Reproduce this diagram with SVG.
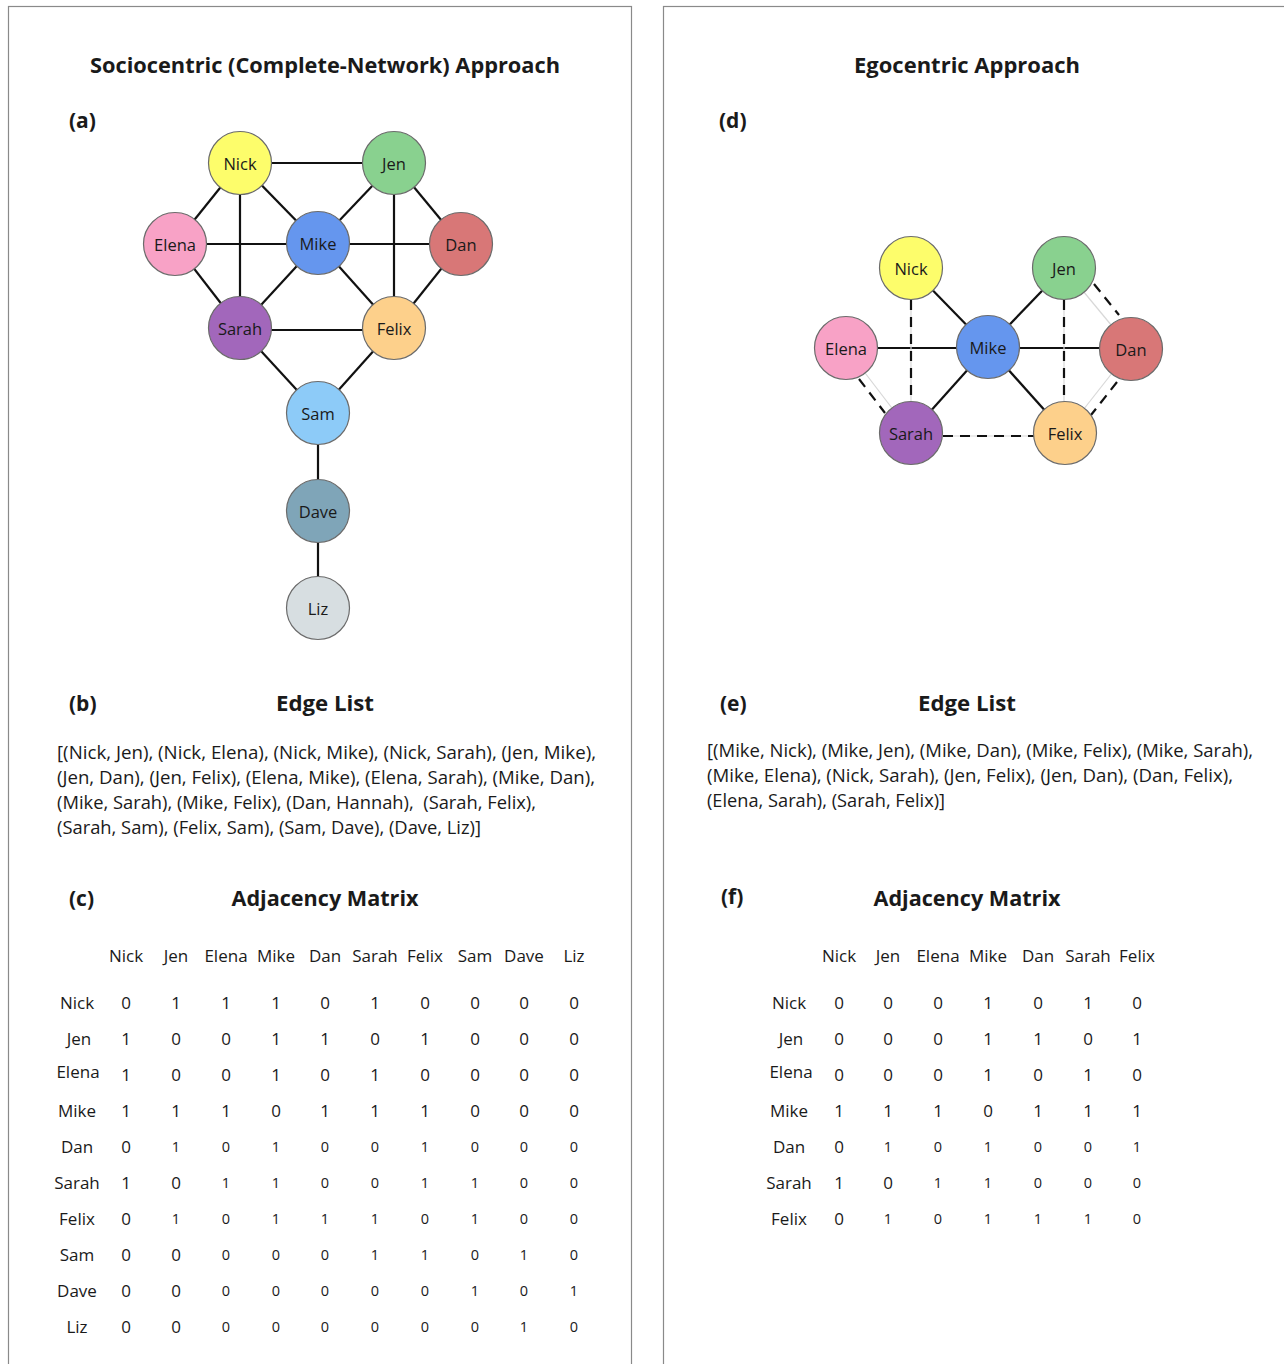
<svg xmlns="http://www.w3.org/2000/svg" width="1284" height="1364" viewBox="0 0 1284 1364">
<style>
  text { font-family: "Open Sans", "Liberation Sans", sans-serif; fill: #1a1a1a; }
  .panel { fill: #ffffff; stroke: #8a8a8a; stroke-width: 1.2; }
  .title { font-size: 22px; font-weight: bold; text-anchor: middle; }
  .lab { font-size: 21px; font-weight: bold; }
  .node circle { stroke: #6b6b6b; stroke-width: 1.2; }
  .node text { font-size: 16.5px; text-anchor: middle; dominant-baseline: central; }
  .edge { stroke: #111; stroke-width: 2.2; fill: none; }
  .dash { stroke: #111; stroke-width: 2.2; stroke-dasharray: 10 7; fill: none; }
  .dashbg { stroke: #d8d8d8; stroke-width: 1.2; fill: none; }
  .el { font-size: 18px; }
  .m text { font-size: 17px; text-anchor: middle; dominant-baseline: central; }
  .m text.s { font-size: 14.5px; }
</style>
<rect width="1284" height="1364" fill="#ffffff"/>
<rect class="panel" x="8.5" y="6.5" width="623" height="1420"/>
<rect class="panel" x="663.5" y="6.5" width="700" height="1420"/>

<text class="title" x="325" y="73" textLength="470" lengthAdjust="spacingAndGlyphs">Sociocentric (Complete-Network) Approach</text>
<text class="title" x="967" y="73" textLength="226" lengthAdjust="spacingAndGlyphs">Egocentric Approach</text>
<text class="lab" x="69" y="128">(a)</text>
<text class="lab" x="719" y="128">(d)</text>

<!-- Left graph connectors -->
<g id="connectors-a">
  <line class="edge" x1="240" y1="163" x2="394" y2="163"/>
  <line class="edge" x1="240" y1="163" x2="175" y2="244"/>
  <line class="edge" x1="240" y1="163" x2="318" y2="243"/>
  <line class="edge" x1="240" y1="163" x2="240" y2="328"/>
  <line class="edge" x1="394" y1="163" x2="318" y2="243"/>
  <line class="edge" x1="394" y1="163" x2="461" y2="244"/>
  <line class="edge" x1="394" y1="163" x2="394" y2="328"/>
  <line class="edge" x1="175" y1="244" x2="461" y2="244"/>
  <line class="edge" x1="175" y1="244" x2="240" y2="328"/>
  <line class="edge" x1="318" y1="243" x2="240" y2="328"/>
  <line class="edge" x1="318" y1="243" x2="394" y2="328"/>
  <line class="edge" x1="461" y1="244" x2="394" y2="328"/>
  <line class="edge" x1="240" y1="330" x2="394" y2="330"/>
  <line class="edge" x1="240" y1="328" x2="318" y2="413"/>
  <line class="edge" x1="394" y1="328" x2="318" y2="413"/>
  <line class="edge" x1="318" y1="413" x2="318" y2="608"/>
</g>
<g id="node-a-nick" class="node"><circle cx="240" cy="163" r="31.5" fill="#fdfd6b"/><text x="240" y="163">Nick</text></g>
<g id="node-a-jen" class="node"><circle cx="394" cy="163" r="31.5" fill="#89d18f"/><text x="394" y="163">Jen</text></g>
<g id="node-a-elena" class="node"><circle cx="175" cy="244" r="31.5" fill="#f8a2c6"/><text x="175" y="244">Elena</text></g>
<g id="node-a-mike" class="node"><circle cx="318" cy="243" r="31.5" fill="#6596ee"/><text x="318" y="243">Mike</text></g>
<g id="node-a-dan" class="node"><circle cx="461" cy="244" r="31.5" fill="#d87777"/><text x="461" y="244">Dan</text></g>
<g id="node-a-sarah" class="node"><circle cx="240" cy="328" r="31.5" fill="#a267bb"/><text x="240" y="328">Sarah</text></g>
<g id="node-a-felix" class="node"><circle cx="394" cy="328" r="31.5" fill="#fdd08b"/><text x="394" y="328">Felix</text></g>
<g id="node-a-sam" class="node"><circle cx="318" cy="413" r="31.5" fill="#8dcbf8"/><text x="318" y="413">Sam</text></g>
<g id="node-a-dave" class="node"><circle cx="318" cy="511" r="31.5" fill="#7fa5b8"/><text x="318" y="511">Dave</text></g>
<g id="node-a-liz" class="node"><circle cx="318" cy="608" r="31.5" fill="#d7dee1"/><text x="318" y="608">Liz</text></g>

<!-- Right graph connectors -->
<g id="connectors-d">
  <line class="edge" x1="988" y1="347" x2="911" y2="268"/>
  <line class="edge" x1="988" y1="347" x2="1064" y2="268"/>
  <line class="edge" x1="846" y1="348" x2="1131" y2="348"/>
  <line class="edge" x1="988" y1="347" x2="1065" y2="433"/>
  <line class="edge" x1="988" y1="347" x2="911" y2="433"/>
  <line class="dashbg" x1="911" y1="268" x2="911" y2="433"/>
  <line class="dash" x1="911" y1="300" x2="911" y2="402"/>
  <line class="dashbg" x1="1064" y1="268" x2="1064" y2="433"/>
  <line class="dash" x1="1064" y1="300" x2="1064" y2="402"/>
  <line class="dashbg" x1="1064" y1="268" x2="1131" y2="349"/>
  <line class="dash" x1="1094" y1="284" x2="1119" y2="315"/>
  <line class="dashbg" x1="1131" y1="349" x2="1065" y2="433"/>
  <line class="dash" x1="1117" y1="382" x2="1091" y2="415"/>
  <line class="dashbg" x1="846" y1="348" x2="911" y2="433"/>
  <line class="dash" x1="859" y1="379" x2="885" y2="413"/>
  <line class="dashbg" x1="911" y1="436" x2="1065" y2="436"/>
  <line class="dash" x1="943" y1="436" x2="1034" y2="436"/>
</g>
<g id="node-d-nick" class="node"><circle cx="911" cy="268" r="31.5" fill="#fdfd6b"/><text x="911" y="268">Nick</text></g>
<g id="node-d-jen" class="node"><circle cx="1064" cy="268" r="31.5" fill="#89d18f"/><text x="1064" y="268">Jen</text></g>
<g id="node-d-elena" class="node"><circle cx="846" cy="348" r="31.5" fill="#f8a2c6"/><text x="846" y="348">Elena</text></g>
<g id="node-d-mike" class="node"><circle cx="988" cy="347" r="31.5" fill="#6596ee"/><text x="988" y="347">Mike</text></g>
<g id="node-d-dan" class="node"><circle cx="1131" cy="349" r="31.5" fill="#d87777"/><text x="1131" y="349">Dan</text></g>
<g id="node-d-sarah" class="node"><circle cx="911" cy="433" r="31.5" fill="#a267bb"/><text x="911" y="433">Sarah</text></g>
<g id="node-d-felix" class="node"><circle cx="1065" cy="433" r="31.5" fill="#fdd08b"/><text x="1065" y="433">Felix</text></g>

<!-- Edge lists -->
<g id="edgelist-b">
  <text class="lab" x="69" y="711">(b)</text>
  <text class="title" x="325" y="711" textLength="98" lengthAdjust="spacingAndGlyphs">Edge List</text>
  <text class="el" x="57" y="759" textLength="539" lengthAdjust="spacingAndGlyphs">[(Nick, Jen), (Nick, Elena), (Nick, Mike), (Nick, Sarah), (Jen, Mike),</text>
  <text class="el" x="57" y="784" textLength="538" lengthAdjust="spacingAndGlyphs">(Jen, Dan), (Jen, Felix), (Elena, Mike), (Elena, Sarah), (Mike, Dan),</text>
  <text class="el" x="57" y="809" textLength="479" lengthAdjust="spacingAndGlyphs" xml:space="preserve">(Mike, Sarah), (Mike, Felix), (Dan, Hannah),  (Sarah, Felix),</text>
  <text class="el" x="57" y="834" textLength="424" lengthAdjust="spacingAndGlyphs">(Sarah, Sam), (Felix, Sam), (Sam, Dave), (Dave, Liz)]</text>
</g>
<g id="edgelist-e">
  <text class="lab" x="720" y="711">(e)</text>
  <text class="title" x="967" y="711" textLength="98" lengthAdjust="spacingAndGlyphs">Edge List</text>
  <text class="el" x="707" y="757" textLength="546" lengthAdjust="spacingAndGlyphs">[(Mike, Nick), (Mike, Jen), (Mike, Dan), (Mike, Felix), (Mike, Sarah),</text>
  <text class="el" x="707" y="782" textLength="526" lengthAdjust="spacingAndGlyphs">(Mike, Elena), (Nick, Sarah), (Jen, Felix), (Jen, Dan), (Dan, Felix),</text>
  <text class="el" x="707" y="807" textLength="238" lengthAdjust="spacingAndGlyphs">(Elena, Sarah), (Sarah, Felix)]</text>
</g>

<!-- Matrix headings -->
<text class="lab" x="69" y="906">(c)</text>
<text class="title" x="325" y="906" textLength="187" lengthAdjust="spacingAndGlyphs">Adjacency Matrix</text>
<text class="lab" x="721" y="904">(f)</text>
<text class="title" x="967" y="906" textLength="187" lengthAdjust="spacingAndGlyphs">Adjacency Matrix</text>

<!-- Left matrix -->
<g id="matrix-c" class="m">
  <text x="126" y="955">Nick</text><text x="176" y="955">Jen</text><text x="226" y="955">Elena</text><text x="276" y="955">Mike</text><text x="325" y="955">Dan</text><text x="375" y="955">Sarah</text><text x="425" y="955">Felix</text><text x="475" y="955">Sam</text><text x="524" y="955">Dave</text><text x="574" y="955">Liz</text>
  <text x="77" y="1002">Nick</text><text x="126" y="1002">0</text><text x="176" y="1002">1</text><text x="226" y="1002">1</text><text x="276" y="1002">1</text><text x="325" y="1002">0</text><text x="375" y="1002">1</text><text x="425" y="1002">0</text><text x="475" y="1002">0</text><text x="524" y="1002">0</text><text x="574" y="1002">0</text>
  <text x="79" y="1038">Jen</text><text x="126" y="1038">1</text><text x="176" y="1038">0</text><text x="226" y="1038">0</text><text x="276" y="1038">1</text><text x="325" y="1038">1</text><text x="375" y="1038">0</text><text x="425" y="1038">1</text><text x="475" y="1038">0</text><text x="524" y="1038">0</text><text x="574" y="1038">0</text>
  <text x="78" y="1071">Elena</text><text x="126" y="1074">1</text><text x="176" y="1074">0</text><text x="226" y="1074">0</text><text x="276" y="1074">1</text><text x="325" y="1074">0</text><text x="375" y="1074">1</text><text x="425" y="1074">0</text><text x="475" y="1074">0</text><text x="524" y="1074">0</text><text x="574" y="1074">0</text>
  <text x="77" y="1110">Mike</text><text x="126" y="1110">1</text><text x="176" y="1110">1</text><text x="226" y="1110">1</text><text x="276" y="1110">0</text><text x="325" y="1110">1</text><text x="375" y="1110">1</text><text x="425" y="1110">1</text><text x="475" y="1110">0</text><text x="524" y="1110">0</text><text x="574" y="1110">0</text>
  <text x="77" y="1146">Dan</text><text x="126" y="1146">0</text><text x="176" y="1146" class="s">1</text><text class="s" x="226" y="1146">0</text><text class="s" x="276" y="1146">1</text><text class="s" x="325" y="1146">0</text><text class="s" x="375" y="1146">0</text><text class="s" x="425" y="1146">1</text><text class="s" x="475" y="1146">0</text><text class="s" x="524" y="1146">0</text><text class="s" x="574" y="1146">0</text>
  <text x="77" y="1182">Sarah</text><text x="126" y="1182">1</text><text x="176" y="1182">0</text><text class="s" x="226" y="1182">1</text><text class="s" x="276" y="1182">1</text><text class="s" x="325" y="1182">0</text><text class="s" x="375" y="1182">0</text><text class="s" x="425" y="1182">1</text><text class="s" x="475" y="1182">1</text><text class="s" x="524" y="1182">0</text><text class="s" x="574" y="1182">0</text>
  <text x="77" y="1218">Felix</text><text x="126" y="1218">0</text><text class="s" x="176" y="1218">1</text><text class="s" x="226" y="1218">0</text><text class="s" x="276" y="1218">1</text><text class="s" x="325" y="1218">1</text><text class="s" x="375" y="1218">1</text><text class="s" x="425" y="1218">0</text><text class="s" x="475" y="1218">1</text><text class="s" x="524" y="1218">0</text><text class="s" x="574" y="1218">0</text>
  <text x="77" y="1254">Sam</text><text x="126" y="1254">0</text><text x="176" y="1254">0</text><text class="s" x="226" y="1254">0</text><text class="s" x="276" y="1254">0</text><text class="s" x="325" y="1254">0</text><text class="s" x="375" y="1254">1</text><text class="s" x="425" y="1254">1</text><text class="s" x="475" y="1254">0</text><text class="s" x="524" y="1254">1</text><text class="s" x="574" y="1254">0</text>
  <text x="77" y="1290">Dave</text><text x="126" y="1290">0</text><text x="176" y="1290">0</text><text class="s" x="226" y="1290">0</text><text class="s" x="276" y="1290">0</text><text class="s" x="325" y="1290">0</text><text class="s" x="375" y="1290">0</text><text class="s" x="425" y="1290">0</text><text class="s" x="475" y="1290">1</text><text class="s" x="524" y="1290">0</text><text class="s" x="574" y="1290">1</text>
  <text x="77" y="1326">Liz</text><text x="126" y="1326">0</text><text x="176" y="1326">0</text><text class="s" x="226" y="1326">0</text><text class="s" x="276" y="1326">0</text><text class="s" x="325" y="1326">0</text><text class="s" x="375" y="1326">0</text><text class="s" x="425" y="1326">0</text><text class="s" x="475" y="1326">0</text><text class="s" x="524" y="1326">1</text><text class="s" x="574" y="1326">0</text>
</g>

<!-- Right matrix -->
<g id="matrix-f" class="m">
  <text x="839" y="955">Nick</text><text x="888" y="955">Jen</text><text x="938" y="955">Elena</text><text x="988" y="955">Mike</text><text x="1038" y="955">Dan</text><text x="1088" y="955">Sarah</text><text x="1137" y="955">Felix</text>
  <text x="789" y="1002">Nick</text><text x="839" y="1002">0</text><text x="888" y="1002">0</text><text x="938" y="1002">0</text><text x="988" y="1002">1</text><text x="1038" y="1002">0</text><text x="1088" y="1002">1</text><text x="1137" y="1002">0</text>
  <text x="791" y="1038">Jen</text><text x="839" y="1038">0</text><text x="888" y="1038">0</text><text x="938" y="1038">0</text><text x="988" y="1038">1</text><text x="1038" y="1038">1</text><text x="1088" y="1038">0</text><text x="1137" y="1038">1</text>
  <text x="791" y="1071">Elena</text><text x="839" y="1074">0</text><text x="888" y="1074">0</text><text x="938" y="1074">0</text><text x="988" y="1074">1</text><text x="1038" y="1074">0</text><text x="1088" y="1074">1</text><text x="1137" y="1074">0</text>
  <text x="789" y="1110">Mike</text><text x="839" y="1110">1</text><text x="888" y="1110">1</text><text x="938" y="1110">1</text><text x="988" y="1110">0</text><text x="1038" y="1110">1</text><text x="1088" y="1110">1</text><text x="1137" y="1110">1</text>
  <text x="789" y="1146">Dan</text><text x="839" y="1146">0</text><text class="s" x="888" y="1146">1</text><text class="s" x="938" y="1146">0</text><text class="s" x="988" y="1146">1</text><text class="s" x="1038" y="1146">0</text><text class="s" x="1088" y="1146">0</text><text class="s" x="1137" y="1146">1</text>
  <text x="789" y="1182">Sarah</text><text x="839" y="1182">1</text><text x="888" y="1182">0</text><text class="s" x="938" y="1182">1</text><text class="s" x="988" y="1182">1</text><text class="s" x="1038" y="1182">0</text><text class="s" x="1088" y="1182">0</text><text class="s" x="1137" y="1182">0</text>
  <text x="789" y="1218">Felix</text><text x="839" y="1218">0</text><text class="s" x="888" y="1218">1</text><text class="s" x="938" y="1218">0</text><text class="s" x="988" y="1218">1</text><text class="s" x="1038" y="1218">1</text><text class="s" x="1088" y="1218">1</text><text class="s" x="1137" y="1218">0</text>
</g>
</svg>
